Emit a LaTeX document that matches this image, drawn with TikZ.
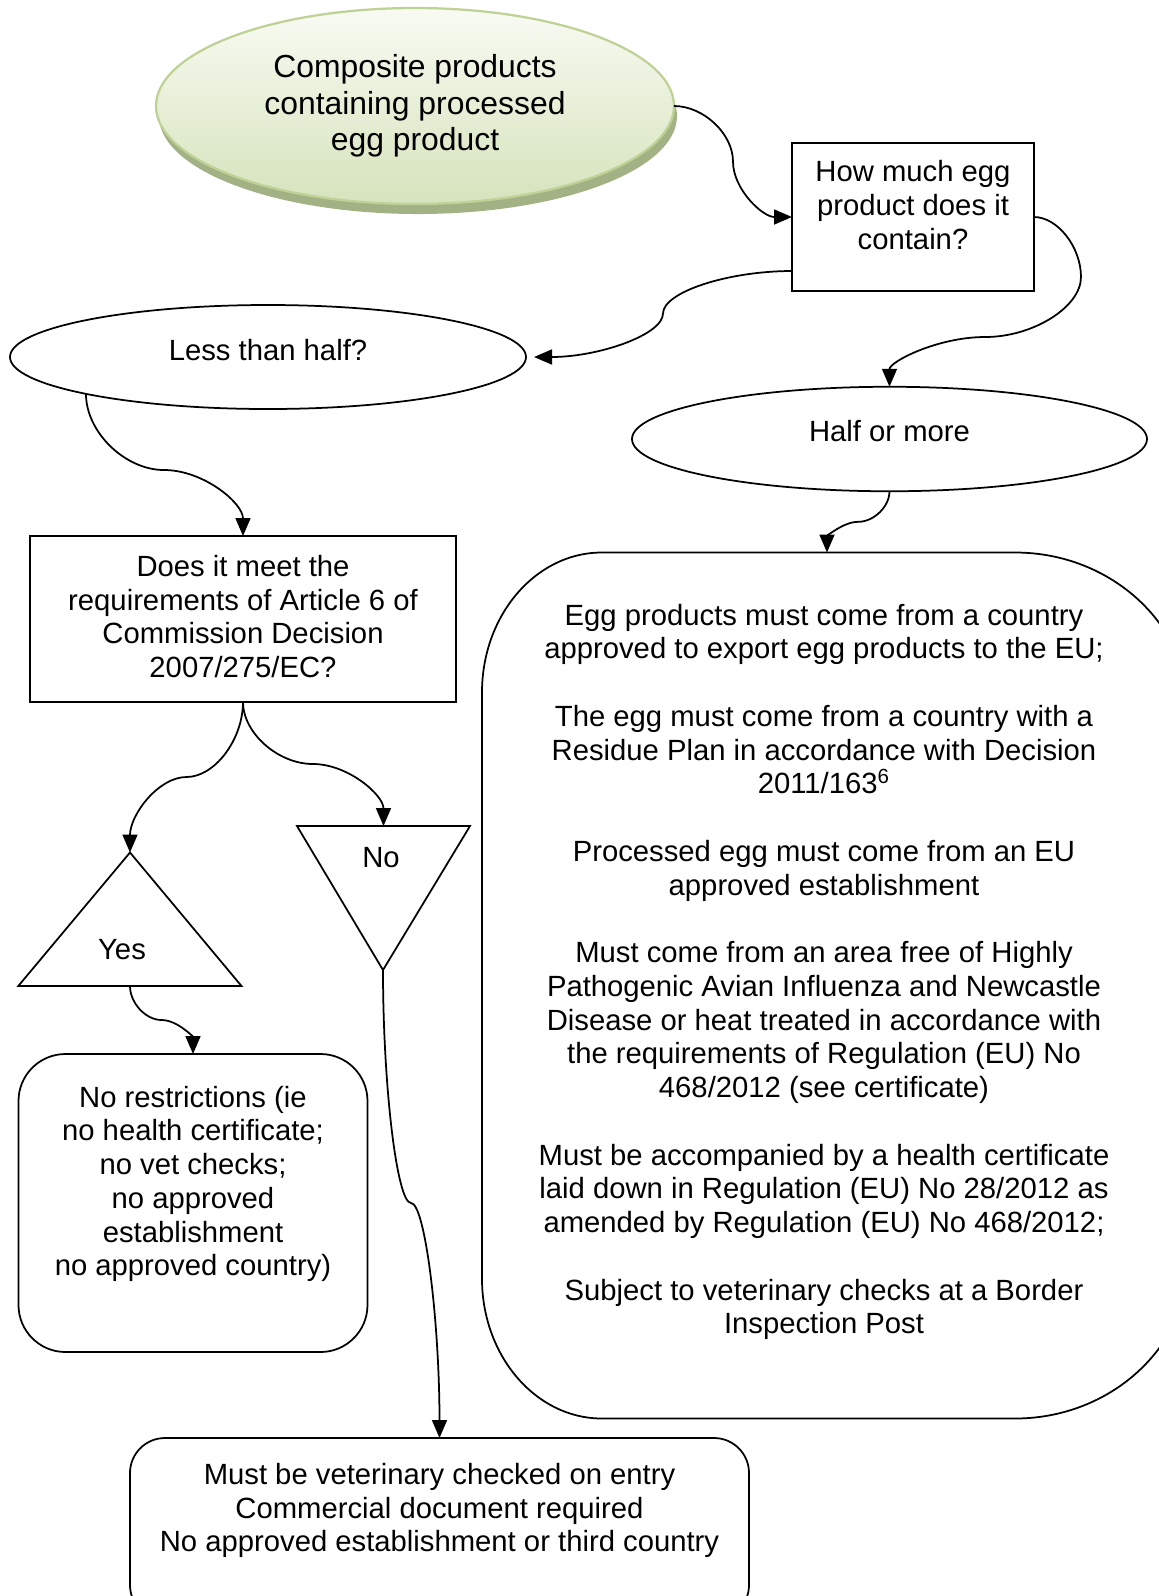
\documentclass[tikz,border=0pt]{standalone}
\usepackage{fontspec}
\setmainfont{Liberation Sans}
\usetikzlibrary{arrows.meta,shapes.geometric,calc}
\definecolor{eggtop}{RGB}{248,251,243}
\definecolor{eggbot}{RGB}{214,227,188}
\definecolor{eggline}{RGB}{190,210,150}
\definecolor{eggshadow}{RGB}{163,178,132}
\begin{document}
\begin{tikzpicture}[x=0.4pt,y=-0.4pt,
  every node/.style={inner sep=0pt, outer sep=0pt},
  txt/.style={font=\fontsize{11.7}{13.5}\selectfont, align=center},
  shp/.style={draw, line width=0.7pt},
  oval/.style={shp, ellipse},
  box/.style={shp, rectangle},
  conn/.style={line width=0.7pt, -{Triangle[length=7.2pt,width=6pt]}},
]
\path[use as bounding box, clip] (0,0) rectangle (1159,1596);

% ---------- top ellipse ----------
\fill[eggshadow] (418,116) ellipse [x radius=103.6pt, y radius=39.2pt];
\node[ellipse, draw=eggline, line width=0.9pt, top color=eggtop, bottom color=eggbot,
      minimum width=207.2pt, minimum height=78.4pt,
      font=\fontsize{12.75}{14.6}\selectfont, align=center] (top) at (415,106)
      {Composite products\\containing processed\\egg product};

% ---------- question box ----------
\node[box, minimum width=96.8pt, minimum height=59.2pt] (how) at (913,217) {};
\node[txt] (howT) at (913,205) {How much egg\\product does it\\contain?};

% ---------- ellipses ----------
\node[oval, minimum width=206.4pt, minimum height=41.6pt] (less) at (268,357) {};
\node[txt] (lessT) at (268,350) {Less than half?};
\node[oval, minimum width=206pt, minimum height=41.8pt] (half) at (889.5,439) {};
\node[txt] (halfT) at (889.5,431.5) {Half or more};

% ---------- Article 6 box ----------
\node[box, minimum width=170.2pt, minimum height=66.4pt] (does) at (243,619) {};
\node[txt] (doesT) at (243,616.5) {Does it meet the\\requirements of Article 6 of\\Commission Decision\\2007/275/EC?};

% ---------- triangles ----------
\coordinate (yesTop) at (130,852.5);
\coordinate (yesL) at (18.3,986);
\coordinate (yesR) at (241.5,986);
\coordinate (yesBase) at (130,986);
\draw[shp, line join=miter] (yesL) -- (yesTop) -- (yesR) -- cycle;
\node[txt] (yesT) at (122,950) {Yes};

\coordinate (noL) at (297,826);
\coordinate (noRt) at (470,826);
\coordinate (noTop) at (383.5,826);
\coordinate (noBottom) at (383,970);
\draw[shp, line join=miter] (noL) -- (noRt) -- (noBottom) -- cycle;
\node[txt] (noT) at (381,857.5) {No};

% ---------- no restrictions box ----------
\node[box, rounded corners=18.8pt, minimum width=139.6pt, minimum height=119.2pt] (norestr) at (193,1203) {};
\node[txt] (norestrT) at (193,1184) {No restrictions (ie\\no health certificate;\\no vet checks;\\no approved\\establishment\\no approved country)};

% ---------- must box ----------
\node[box, rounded corners=14pt, minimum width=247.6pt, minimum height=72.8pt] (must) at (439.5,1529) {};
\node[txt] (mustT) at (439.5,1510.5) {Must be veterinary checked on entry\\Commercial document required\\No approved establishment or third country};

% ---------- big requirements box ----------
\node[minimum width=283.2pt, minimum height=346.4pt] (big) at (836,985.5) {};
\draw[shp] ($(big.north west)+(48pt,0pt)$) -- ($(big.north east)+(-70pt,0pt)$)
  arc[start angle=90, end angle=0, x radius=70pt, y radius=65pt]
  -- ($(big.south east)+(0pt,65pt)$)
  arc[start angle=0, end angle=-90, x radius=70pt, y radius=65pt]
  -- ($(big.south west)+(48pt,0pt)$)
  arc[start angle=-90, end angle=-180, x radius=48pt, y radius=56pt]
  -- ($(big.north west)+(0pt,-56pt)$)
  arc[start angle=180, end angle=90, x radius=48pt, y radius=56pt] -- cycle;
\node[txt] (bigT) at (824,972) {Egg products must come from a country\\approved to export egg products to the EU;\\[13.5pt]
The egg must come from a country with a\\Residue Plan in accordance with Decision\\2011/163\textsuperscript{6}\\[13.5pt]
Processed egg must come from an EU\\approved establishment\\[13.5pt]
Must come from an area free of Highly\\Pathogenic Avian Influenza and Newcastle\\Disease or heat treated in accordance with\\the requirements of Regulation (EU) No\\468/2012 (see certificate)\\[13.5pt]
Must be accompanied by a health certificate\\laid down in Regulation (EU) No 28/2012 as\\amended by Regulation (EU) No 468/2012;\\[13.5pt]
Subject to veterinary checks at a Border\\Inspection Post};

% ---------- connectors ----------
\draw[conn] (top.east) .. controls +(29.5,0) and +(0,-27.75) .. (733,161.5)
  .. controls +(0,27.75) and +(-29.5,0) .. (how.west);
\draw[conn] ($(how.south west)+(0,-20)$) .. controls +(-64.5,0) and +(0,-21.25) .. (663,313.5)
  .. controls +(0,21.25) and +(64.5,0) .. ($(less.east)+(8,0)$);
\draw[conn] (how.east) .. controls +(23.5,0) and +(0,-30) .. (1081,277)
  .. controls +(0,30) and +(47.75,0) .. (985.25,337)
  .. controls +(-47.85,0) and +(0,-25) .. (half.north);
\draw[conn] ($(less.center)+(-182,37)$) .. controls +(0,38) and +(-39,0) .. (164,470)
  .. controls +(39.5,0) and +(0,-33) .. (does.north);
\draw[conn] (does.south) .. controls +(0,37.5) and +(28.25,0) .. (186.5,777)
  .. controls +(-28.25,0) and +(0,-37.5) .. (yesTop);
\draw[conn] (does.south) .. controls +(0,31) and +(-35,0) .. (313,764)
  .. controls +(35,0) and +(0,-31) .. (noTop);
\draw[conn] (yesBase) .. controls +(0,17) and +(-15.75,0) .. (161.5,1020)
  .. controls +(15.75,0) and +(0,-17) .. (norestr.north);
\draw[conn] (noBottom) .. controls +(0,116.5) and +(-14,0) .. (411,1203)
  .. controls +(14,0) and +(0,-116.5) .. (must.north);
\draw[conn] (half.south) .. controls +(0,15.4) and +(15.6,0) .. (858.25,521.8)
  .. controls +(-15.6,0) and +(0,-15.4) .. ($(big.north)+(-9,0)$);
\end{tikzpicture}
\end{document}
